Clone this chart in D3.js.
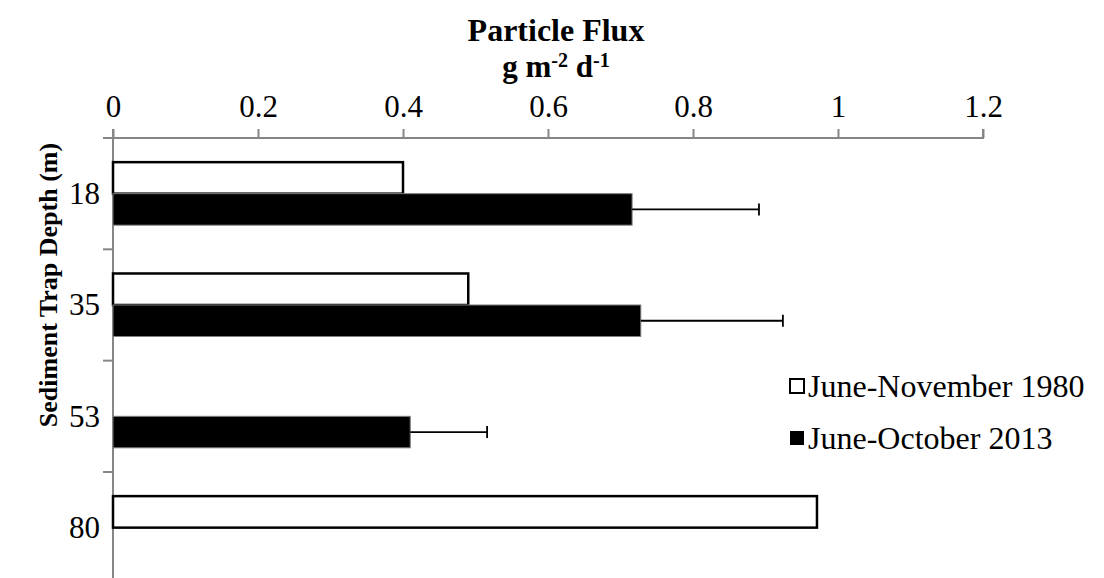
<!DOCTYPE html>
<html>
<head>
<meta charset="utf-8">
<script src="https://cdn.jsdelivr.net/npm/d3@7"></script>
<style>
  html, body { margin: 0; padding: 0; background: #fff; }
  svg { display: block; }
  text { font-family: "Liberation Serif", "Times New Roman", serif; fill: #000; }
</style>
</head>
<body>
<svg id="chart" width="1104" height="578"></svg>
<script>
// Sediment trap depths (m), top to bottom
const depths = ["18", "35", "53", "80"];
// Particle flux, g m-2 d-1
const flux1980 = [0.40, 0.49, null, 0.971];
const flux2013 = [0.716, 0.728, 0.41, null];
// Positive error for the 2013 series
const err2013 = [0.175, 0.196, 0.106, null];
const xTicks = [0, 0.2, 0.4, 0.6, 0.8, 1, 1.2];
const seriesNames = ["June-November 1980", "June-October 2013"];

const svg = d3.select("#chart");
const axisColor = "#868686";
const fontSize = 31;

const x = d3.scaleLinear().domain([0, 1.2]).range([113, 983]);
const y = d3.scaleBand().domain(depths).range([138, 583.3]).padding(0);
const barH = y.bandwidth() * 0.283;
const groupOff = (y.bandwidth() - 2 * barH) / 2;

// Top value axis
const xAxis = d3.axisTop(x).tickValues(xTicks).tickSize(9).tickPadding(12)
  .tickFormat(d => d3.format("")(d));
const gx = svg.append("g").attr("transform", "translate(0,138)").call(xAxis);
gx.select(".domain").attr("stroke", axisColor).attr("stroke-width", 2)
  .attr("d", `M${x(0)},-9V0H${x(1.2)}V-9`);
gx.selectAll(".tick line").attr("stroke", axisColor).attr("stroke-width", 2);
gx.selectAll(".tick text").attr("font-size", fontSize).attr("font-family", "Liberation Serif");

// Left category axis with ticks at band boundaries
const gy = svg.append("g");
gy.append("line").attr("x1", x(0)).attr("x2", x(0)).attr("y1", 138).attr("y2", 578)
  .attr("stroke", axisColor).attr("stroke-width", 2);
const boundaries = depths.map(d => y(d)).concat([y(depths[depths.length - 1]) + y.bandwidth()]);
gy.selectAll("line.cat").data(boundaries).join("line").attr("class", "cat")
  .attr("x1", x(0) - 10).attr("x2", x(0)).attr("y1", d => d).attr("y2", d => d)
  .attr("stroke", axisColor).attr("stroke-width", 2);
gy.selectAll("text").data(depths).join("text")
  .attr("x", 100).attr("y", d => y(d) + y.bandwidth() / 2)
  .attr("text-anchor", "end").attr("dominant-baseline", "central")
  .attr("font-size", fontSize).text(d => d);

// 1980 bars (open)
svg.append("g").selectAll("rect").data(depths.filter((d, i) => flux1980[i] != null))
  .join("rect")
  .attr("x", x(0))
  .attr("y", d => y(d) + groupOff)
  .attr("width", d => x(flux1980[depths.indexOf(d)]) - x(0))
  .attr("height", barH)
  .attr("fill", "#fff").attr("stroke", "#000").attr("stroke-width", 2.5);

// 2013 bars (solid)
svg.append("g").selectAll("rect").data(depths.filter((d, i) => flux2013[i] != null))
  .join("rect")
  .attr("x", x(0))
  .attr("y", d => y(d) + groupOff + barH)
  .attr("width", d => x(flux2013[depths.indexOf(d)]) - x(0))
  .attr("height", barH)
  .attr("fill", "#000").attr("stroke", "#7f7f7f").attr("stroke-width", 1);

// Error bars on the 2013 series
const eb = svg.append("g").attr("stroke", "#000").attr("stroke-width", 1.8);
depths.forEach((d, i) => {
  if (flux2013[i] == null || err2013[i] == null) return;
  const cy = y(d) + groupOff + barH * 1.5;
  const x1 = x(flux2013[i]), x2 = x(flux2013[i] + err2013[i]);
  eb.append("line").attr("x1", x1).attr("x2", x2).attr("y1", cy).attr("y2", cy);
  eb.append("line").attr("x1", x2).attr("x2", x2).attr("y1", cy - 6).attr("y2", cy + 6);
});

// Titles
svg.append("text").attr("x", 556).attr("y", 41).attr("text-anchor", "middle")
  .attr("font-size", 32).attr("font-weight", "bold").text("Particle Flux");
const unit = svg.append("text").attr("x", 556).attr("y", 77).attr("text-anchor", "middle")
  .attr("font-size", 31).attr("font-weight", "bold");
unit.append("tspan").text("g m");
unit.append("tspan").attr("dy", -10).attr("font-size", 20).text("-2");
unit.append("tspan").attr("dy", 10).text(" d");
unit.append("tspan").attr("dy", -10).attr("font-size", 20).text("-1");

svg.append("text")
  .attr("transform", `translate(48,${285}) rotate(-90)`)
  .attr("text-anchor", "middle").attr("dominant-baseline", "central")
  .attr("font-size", 26).attr("font-weight", "bold")
  .text("Sediment Trap Depth (m)");

// Legend
const legend = svg.append("g");
const legY = [386, 438];
legend.append("rect").attr("x", 790).attr("y", legY[0] - 7).attr("width", 14).attr("height", 14)
  .attr("fill", "#fff").attr("stroke", "#000").attr("stroke-width", 2);
legend.append("rect").attr("x", 790).attr("y", legY[1] - 7).attr("width", 14).attr("height", 14)
  .attr("fill", "#000");
legend.selectAll("text").data(seriesNames).join("text")
  .attr("x", 808).attr("y", (d, i) => legY[i])
  .attr("dominant-baseline", "central").attr("font-size", 32)
  .text(d => d);
</script>
</body>
</html>
